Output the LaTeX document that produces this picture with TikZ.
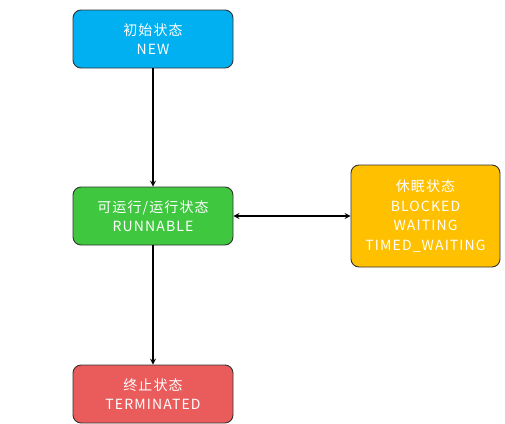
\documentclass[tikz,border=0pt]{standalone}
\usepackage{fontspec}
\setmainfont[LetterSpace=8]{Noto Sans CJK SC}
\usetikzlibrary{arrows}

\definecolor{newblue}{RGB}{0,176,240}
\definecolor{runggreen}{RGB}{63,199,63}
\definecolor{waityellow}{RGB}{255,192,0}
\definecolor{termred}{RGB}{234,91,91}
\definecolor{edgegray}{RGB}{51,51,51}

\tikzset{
    state/.style={draw=edgegray, line width=0.9pt, rounded corners=8pt, text=white,
        align=center, font=\fontsize{14}{19.5}\selectfont, inner sep=0pt}
}

\begin{document}
\begin{tikzpicture}[x=1pt, y=-1pt, >=stealth]

            \useasboundingbox (0,0) rectangle (505,423);

            % Draw the four states
            \node[state, fill=newblue, minimum width=160pt, minimum height=58pt]
                (new) at (153,39) {初始状态\\NEW};
            \node[state, fill=runggreen, minimum width=160pt, minimum height=58pt]
                (run) at (153,216) {可运行/运行状态\\RUNNABLE};
            \node[state, fill=waityellow, minimum width=149pt, minimum height=102pt]
                (wait) at (425.5,216) {休眠状态\\BLOCKED\\WAITING\\TIMED\_WAITING};
            \node[state, fill=termred, minimum width=160pt, minimum height=58pt]
                (term) at (153,394) {终止状态\\TERMINATED};

            % Draw the transitions
            \draw[->, line width=1.6pt] (new) -- (run);
            \draw[<->, line width=1.6pt] (run) -- (wait);
            \draw[->, line width=1.6pt] (run) -- (term);

        \end{tikzpicture}
\end{document}
